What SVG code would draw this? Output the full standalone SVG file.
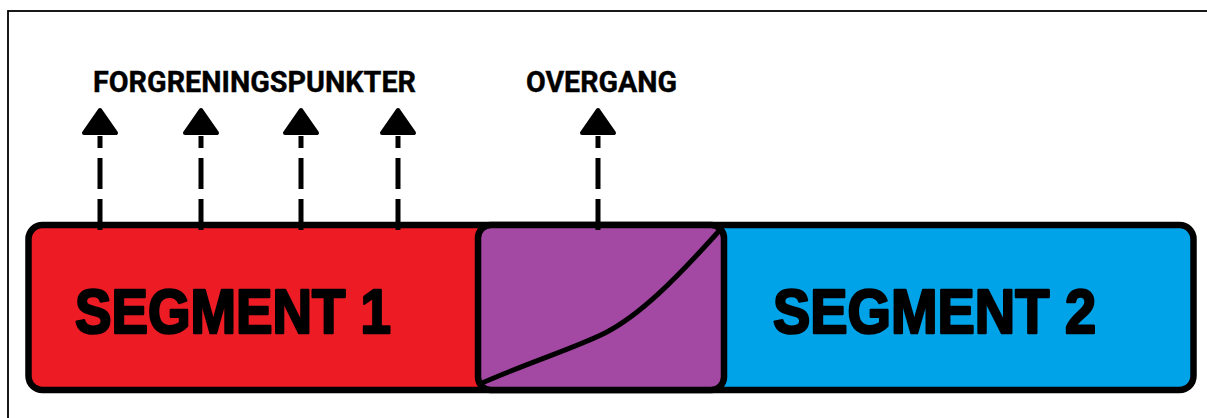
<svg xmlns="http://www.w3.org/2000/svg" width="1207" height="418" viewBox="0 0 1207 418">
  <style>
    .frame { fill: none; stroke: #000; stroke-width: 1.8; }
    .outline { fill: none; stroke: #000; stroke-width: 6.5; stroke-linejoin: round; }
    .label { font-family: Roboto, "Liberation Sans", sans-serif; font-weight: bold; font-size: 29px; fill: #000; stroke: #000; stroke-width: 0.4; }
    .seg { font-family: "Liberation Sans", Arial, sans-serif; font-weight: bold; font-size: 63px; fill: #000; stroke: #000; stroke-width: 2.6; stroke-linejoin: round; }
    .stem { stroke: #000; stroke-width: 5; stroke-dasharray: 31 10; fill: none; }
    .head { fill: #000; stroke: #000; stroke-width: 4; stroke-linejoin: round; }
  </style>
  <defs>
    <!-- upward arrowhead, tip at y=108 -->
    <polygon id="head" class="head" points="0,110 16,133 -16,133"/>
  </defs>

  <rect width="1207" height="418" fill="#fff"/>
  <!-- page frame (open at right and bottom) -->
  <rect class="frame" x="8" y="11" width="1220" height="430"/>

  <!-- segment bar -->
  <g id="segment1">
    <path d="M42.5,225 H600 V390 H42.5 A14,14 0 0 1 28.5,376 V239 A14,14 0 0 1 42.5,225 Z" fill="#ED1C24"/>
    <text class="seg" x="75" y="333" textLength="316" lengthAdjust="spacingAndGlyphs">SEGMENT 1</text>
  </g>
  <g id="segment2">
    <path d="M600,225 H1179.5 A14,14 0 0 1 1193.5,239 V376 A14,14 0 0 1 1179.5,390 H600 Z" fill="#00A2E8"/>
    <text class="seg" x="773" y="333" textLength="323" lengthAdjust="spacingAndGlyphs">SEGMENT 2</text>
  </g>
  <rect class="outline" x="28.5" y="225" width="1165" height="165" rx="14"/>

  <g id="transition">
    <rect x="478" y="225" width="246" height="165" rx="13" fill="#A349A4" stroke="#000" stroke-width="6.5"/>
    <path d="M482,383 C530,362 575,348 605,333 C640,315 675,280 719,231" fill="none" stroke="#000" stroke-width="5" stroke-linecap="round"/>
  </g>

  <!-- labels -->
  <g id="label-branch">
    <text class="label" x="93" y="92" textLength="323" lengthAdjust="spacingAndGlyphs">FORGRENINGSPUNKTER</text>
  </g>
  <g id="label-transition">
    <text class="label" x="526" y="92" textLength="151" lengthAdjust="spacingAndGlyphs">OVERGANG</text>
  </g>

  <!-- dashed arrows -->
  <g id="connectors">
    <path class="stem" d="M100,230 V136"/>
    <use href="#head" x="100"/>
    <path class="stem" d="M201,230 V136"/>
    <use href="#head" x="201"/>
    <path class="stem" d="M301,230 V136"/>
    <use href="#head" x="301"/>
    <path class="stem" d="M398,230 V136"/>
    <use href="#head" x="398"/>
    <path class="stem" d="M598,230 V136"/>
    <use href="#head" x="598"/>
  </g>
</svg>
